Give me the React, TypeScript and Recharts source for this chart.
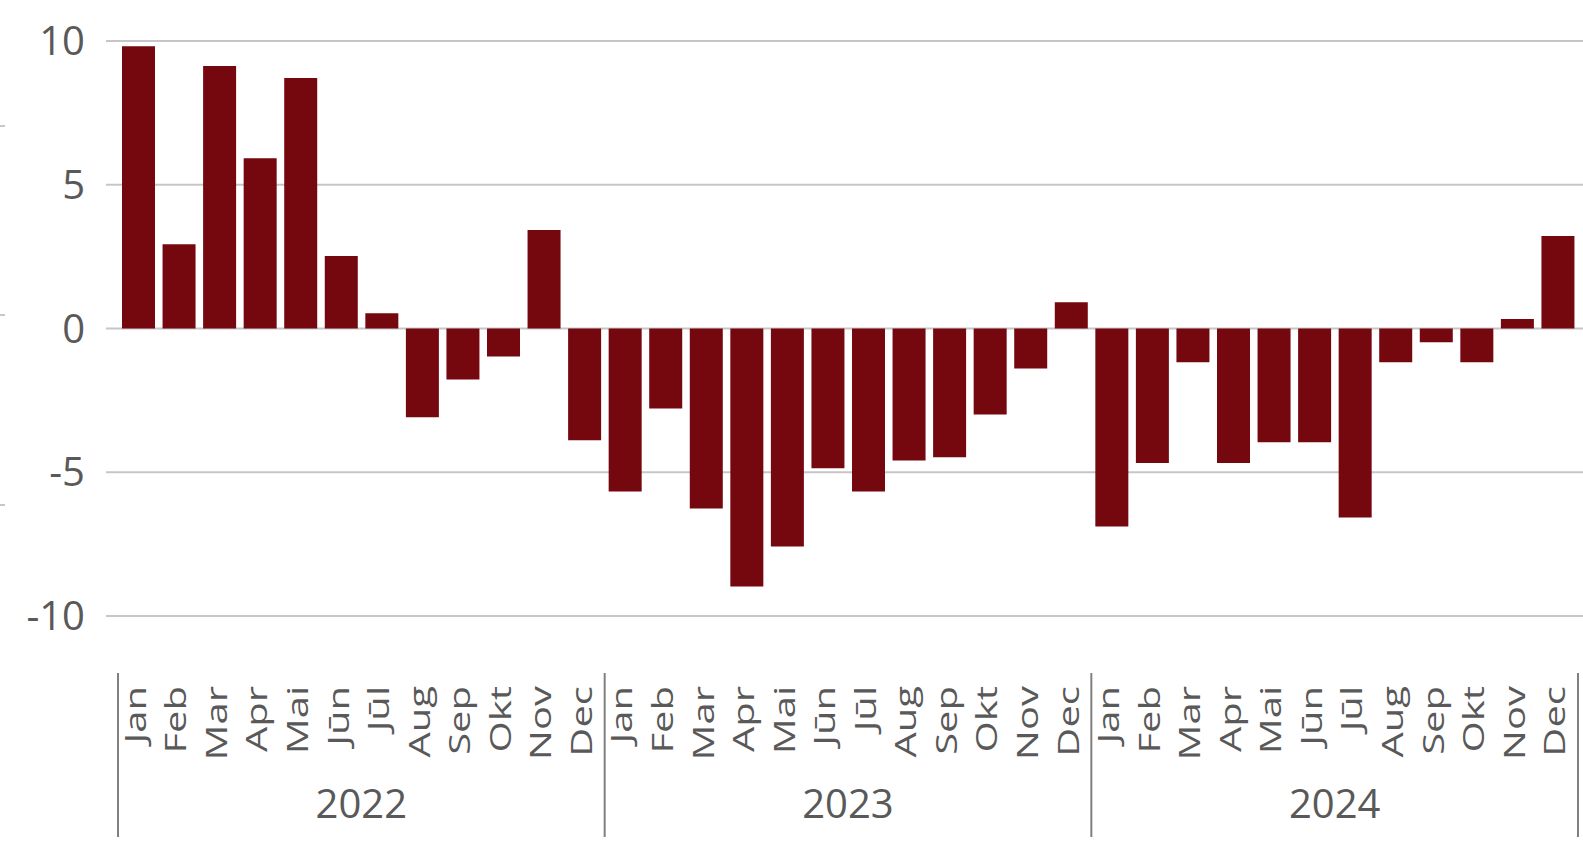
import { BarChart, Bar, XAxis, YAxis, CartesianGrid } from "recharts";

const months = ["Jan", "Feb", "Mar", "Apr", "Mai", "Jūn", "Jūl", "Aug", "Sep", "Okt", "Nov", "Dec"];
const years = ["2022", "2023", "2024"];

const values2022 = [9.82, 2.93, 9.13, 5.92, 8.71, 2.52, 0.53, -3.09, -1.77, -0.97, 3.43, -3.89];
const values2023 = [-5.67, -2.78, -6.26, -8.97, -7.58, -4.86, -5.67, -4.59, -4.48, -2.99, -1.39, 0.91];
const values2024 = [-6.89, -4.68, -1.17, -4.68, -3.96, -3.96, -6.57, -1.17, -0.48, -1.17, 0.33, 3.22];

const yTicks = [-10, -5, 0, 5, 10];

const seriesByYear = [values2022, values2023, values2024];

const data = years.flatMap((year, yi) =>
  months.map((month, mi) => ({
    key: `${year}-${mi}`,
    month,
    year,
    value: seriesByYear[yi][mi],
  }))
);

const FONT = "'Open Sans', 'Noto Sans', sans-serif";
const TEXT = "#595959";
const BAR = "#75070f";

const MonthTick = ({ x, y, payload }: any) => {
  const idx = payload.index as number;
  const row = data[idx];
  const half = payload.offset || 20.28;
  const monthIdx = idx % 12;
  return (
    <g>
      <text
        transform={`translate(${x + 7.5}, ${y + 70}) rotate(-90) scale(1, 0.72)`}
        textAnchor="end"
        fontSize={40}
        fontFamily={FONT}
        fill={TEXT}
      >
        {row ? row.month : ""}
      </text>
      {monthIdx === 0 && (
        <line x1={x - half} x2={x - half} y1={y + 57} y2={y + 221} stroke="#808080" strokeWidth={2} />
      )}
      {idx === data.length - 1 && (
        <line x1={x + half} x2={x + half} y1={y + 57} y2={y + 221} stroke="#808080" strokeWidth={2} />
      )}
      {monthIdx === 6 && (
        <text x={x - half} y={y + 202} textAnchor="middle" fontSize={40} fontFamily={FONT} fill={TEXT}>
          {row.year}
        </text>
      )}
    </g>
  );
};

const App = () => {
  return (
    <div style={{ position: "absolute", left: 0, top: 0, width: 1583, height: 842, background: "#fff" }}>
      {[126, 315, 505].map((t) => (
        <div
          key={t}
          style={{ position: "absolute", left: 0, top: t - 1, width: 5, height: 2, background: "#c8c8c8" }}
        />
      ))}
      <BarChart
        width={1583}
        height={842}
        data={data}
        margin={{ top: 41, right: 0, bottom: 0, left: 0 }}
      >
        <CartesianGrid vertical={false} stroke="#c6c6c6" strokeWidth={2} />
        <XAxis
          dataKey="key"
          interval={0}
          height={226}
          padding={{ left: 12, right: 5 }}
          axisLine={false}
          tickLine={false}
          tickSize={0}
          tickMargin={0}
          tick={<MonthTick />}
        />
        <YAxis
          domain={[-10, 10]}
          ticks={yTicks}
          width={106}
          axisLine={false}
          tickLine={false}
          tickSize={0}
          tickMargin={21}
          tick={{ fontSize: 40, fill: TEXT, fontFamily: FONT }}
        />
        <Bar dataKey="value" fill={BAR} barSize={33} isAnimationActive={false} />
      </BarChart>
    </div>
  );
};

export default App;
